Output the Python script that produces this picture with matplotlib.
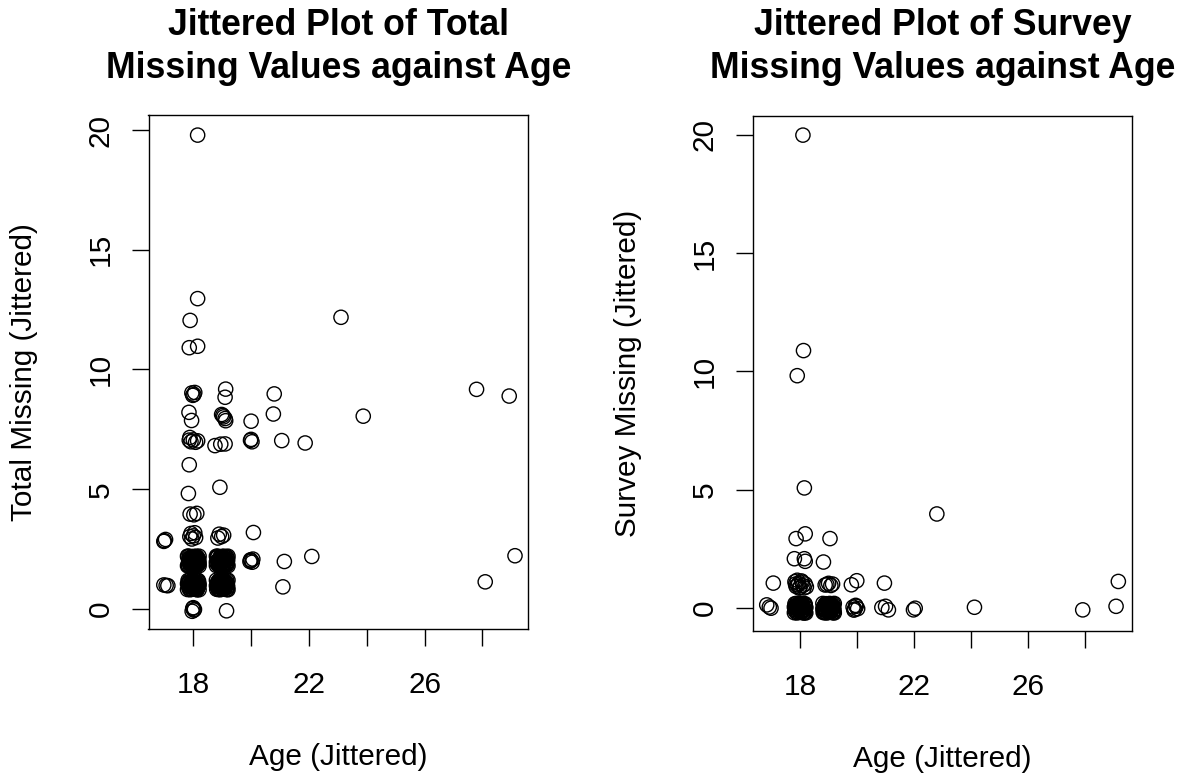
import numpy as np
import matplotlib
matplotlib.use("Agg")
from matplotlib import pyplot as plt

plt.rcParams['font.family'] = ['Liberation Sans', 'DejaVu Sans']

# left panel: jittered age vs total missing
age_total = [
    18.15, 18.15, 17.89, 23.11, 17.86, 18.15,
    17.95, 18.02, 18.05, 17.98, 19.12, 19.10, 20.80, 27.80, 28.93,
    17.85, 17.94, 18.98, 19.05, 19.10, 19.02, 19.12, 20.00, 20.77, 23.88,
    17.86, 17.92, 18.00, 18.08, 18.15, 17.88, 18.75, 18.95, 19.10, 20.00, 20.03, 19.98, 21.06, 21.87,
    17.86, 18.92, 17.83,
    17.89, 18.12, 18.02,
    17.92, 18.00, 17.95, 18.05, 17.88, 18.08, 18.90, 18.98, 19.05, 18.85, 20.08,
    17.00, 17.04, 16.98,
    # age 18, two missing
    17.82, 17.85, 17.88, 17.90, 17.93, 17.95, 17.97, 18.00, 18.02, 18.04, 18.06, 18.08, 18.10,
    18.12, 18.15, 18.17, 18.19, 17.84, 17.99, 18.01, 18.13, 17.91, 18.05, 18.16, 17.87,
    17.81, 17.83, 17.86, 17.89, 17.92, 17.94, 17.96, 17.99, 18.03, 18.05, 18.07, 18.09, 18.11,
    18.14, 18.18, 18.20, 17.80, 18.20, 17.80, 18.20, 17.88, 18.00, 18.12, 17.95, 18.08,
    # age 19, two missing
    18.81, 18.83, 18.86, 18.88, 18.91, 18.93, 18.95, 18.98, 19.00, 19.02, 19.04, 19.07, 19.09,
    19.11, 19.14, 19.16, 19.18, 18.85, 18.97, 19.03, 19.12, 18.90, 19.06, 18.94, 19.17,
    18.80, 18.82, 18.85, 18.88, 18.90, 18.93, 18.96, 18.99, 19.01, 19.04, 19.06, 19.08, 19.11,
    19.13, 19.16, 19.19, 18.80, 19.20, 18.80, 19.20, 18.87, 19.00, 19.10, 18.95, 19.05,
    19.98, 20.04, 20.00, 20.06, 19.96,
    21.15, 22.10, 29.13,
    16.98, 17.06, 17.12,
    # age 18, one missing
    17.83, 17.85, 17.88, 17.90, 17.92, 17.95, 17.97, 18.00, 18.02, 18.04, 18.07, 18.09,
    18.11, 18.14, 18.16, 18.18, 17.86, 18.01, 18.06, 17.93, 18.12, 17.98, 18.19,
    17.80, 17.82, 17.84, 17.87, 17.89, 17.91, 17.94, 17.96, 17.99, 18.03, 18.05, 18.08,
    18.10, 18.13, 18.15, 18.17, 18.20, 17.80, 18.20, 18.00, 17.90, 18.10, 17.85, 18.18,
    # age 19, one missing
    18.82, 18.84, 18.87, 18.89, 18.92, 18.94, 18.96, 18.99, 19.01, 19.03, 19.05, 19.08,
    19.10, 19.13, 19.15, 19.17, 18.86, 19.00, 19.12, 18.91, 19.06, 19.18,
    18.80, 18.81, 18.83, 18.86, 18.88, 18.90, 18.93, 18.95, 18.98, 19.02, 19.04, 19.07,
    19.09, 19.11, 19.14, 19.16, 19.19, 18.80, 19.20, 19.20, 18.97, 19.03, 18.85, 19.13,
    21.10, 28.10,
    17.98, 18.02, 18.00, 17.96, 18.04, 19.15,
]
total_missing = [
    19.79, 12.96, 12.05, 12.18, 10.91, 10.97,
    9.02, 8.95, 9.04, 8.92, 9.18, 8.84, 8.98, 9.17, 8.89,
    8.21, 7.87, 8.12, 8.02, 7.95, 8.08, 7.86, 7.84, 8.14, 8.05,
    7.05, 6.98, 7.06, 6.96, 7.02, 7.16, 6.82, 6.88, 6.89, 7.08, 6.98, 7.04, 7.03, 6.93,
    6.02, 5.08, 4.82,
    3.96, 3.99, 3.93,
    3.15, 3.05, 2.92, 3.18, 3.02, 2.98, 3.12, 3.02, 3.08, 2.96, 3.19,
    2.85, 2.90, 2.82,
    1.84, 2.10, 1.95, 2.16, 1.82, 2.03, 1.90, 2.12, 1.86, 1.98, 2.18, 1.83, 2.06,
    1.92, 2.14, 1.88, 2.01, 1.97, 1.80, 2.19, 1.81, 2.07, 2.09, 1.96, 1.89,
    2.19, 1.81, 2.20, 1.80, 2.11, 1.87, 2.18, 1.93, 2.04, 1.81, 2.13, 1.96, 2.20,
    1.85, 2.08, 1.91, 1.80, 2.20, 2.20, 1.80, 2.02, 1.97, 2.16, 1.99, 1.84,
    1.92, 2.14, 1.83, 2.04, 1.97, 2.17, 1.86, 2.08, 1.81, 2.00, 2.15, 1.89, 2.11,
    1.85, 2.02, 2.18, 1.94, 1.99, 1.93, 1.82, 2.07, 1.87, 2.03, 2.12, 1.84,
    1.81, 2.18, 2.20, 1.84, 2.09, 1.80, 2.03, 2.19, 1.94, 1.86, 2.20, 1.98, 1.82,
    2.16, 1.90, 2.06, 2.20, 1.80, 1.96, 2.20, 1.93, 2.06, 2.00, 1.98, 2.13,
    2.05, 1.95, 2.02, 2.08, 1.98,
    1.98, 2.19, 2.22,
    1.00, 0.98, 0.97,
    1.06, 0.86, 1.15, 0.95, 1.02, 0.82, 1.18, 0.91, 1.08, 0.99, 0.84, 1.13,
    0.93, 1.04, 0.88, 1.11, 0.97, 1.17, 0.96, 1.10, 0.81, 1.01, 0.98,
    0.81, 1.19, 0.93, 1.20, 0.80, 1.07, 1.16, 0.89, 1.20, 0.82, 1.12, 1.19,
    0.86, 0.80, 1.20, 0.94, 1.02, 1.05, 0.80, 1.03, 0.99, 1.01, 1.10, 1.17,
    0.96, 1.12, 0.85, 1.04, 1.16, 0.90, 1.01, 0.83, 1.14, 0.94, 1.07, 0.87,
    1.18, 0.98, 1.09, 0.82, 1.01, 0.97, 0.91, 1.19, 0.86, 1.05,
    1.20, 0.82, 1.05, 0.81, 1.18, 0.93, 0.80, 1.13, 1.04, 0.88, 1.20, 1.15,
    0.84, 1.06, 0.81, 1.19, 0.92, 0.97, 1.20, 0.80, 0.95, 1.02, 0.92, 1.10,
    0.92, 1.13,
    0.02, -0.05, 0.05, -0.10, -0.02, -0.08,
]

# right panel: jittered age vs survey missing
age_survey = [
    18.10, 18.12, 17.90, 18.15, 22.80, 17.86, 18.18, 19.05, 17.80, 18.15, 18.18, 18.82,
    17.06, 17.82, 17.86, 17.95, 18.00, 18.05, 18.10, 18.18, 18.22, 17.90,
    17.84, 17.97, 18.08, 18.14, 17.92,
    18.94, 19.00, 19.08, 19.14, 18.88, 19.80, 19.99, 20.96, 29.17,
    16.83, 16.98, 16.92,
    # age 18, none missing
    17.83, 17.85, 17.88, 17.90, 17.93, 17.95, 17.97, 18.00, 18.02, 18.04, 18.07, 18.09,
    18.11, 18.14, 18.16, 18.18, 17.86, 18.01, 18.06, 17.92, 18.13, 17.98, 18.19,
    17.80, 17.82, 17.84, 17.87, 17.89, 17.91, 17.94, 17.96, 17.99, 18.03, 18.05, 18.08,
    18.10, 18.13, 18.15, 18.17, 18.20, 17.80, 18.20, 18.00, 17.90, 18.10, 17.85, 18.18,
    # age 19, none missing
    18.82, 18.84, 18.87, 18.89, 18.92, 18.94, 18.96, 18.99, 19.01, 19.03, 19.05, 19.08,
    19.10, 19.13, 19.15, 19.17, 18.86, 19.00, 19.12, 18.91, 19.06, 19.18,
    18.80, 18.81, 18.83, 18.86, 18.88, 18.90, 18.93, 18.95, 18.98, 19.02, 19.04, 19.07,
    19.09, 19.11, 19.14, 19.16, 19.19, 18.80, 19.20, 19.20, 18.97, 19.03, 18.85, 19.13,
    19.86, 19.92, 19.97, 20.02, 19.95, 19.89,
    20.87, 21.00, 21.10, 21.98, 22.04, 24.12, 27.92, 29.09,
]
survey_missing = [
    19.98, 10.88, 9.82, 5.08, 3.98, 2.94, 3.14, 2.94, 2.09, 2.09, 1.98, 1.95,
    1.06, 1.12, 0.92, 1.05, 0.88, 1.15, 0.96, 1.02, 0.90, 1.18,
    1.02, 0.85, 1.10, 0.86, 0.98,
    1.00, 1.05, 0.96, 1.02, 0.98, 0.99, 1.16, 1.06, 1.13,
    0.14, 0.00, 0.05,
    -0.12, 0.10, -0.03, 0.16, -0.17, 0.04, -0.08, 0.13, -0.14, 0.01, 0.18, -0.10,
    0.07, -0.05, 0.15, -0.16, 0.02, 0.19, -0.01, 0.09, -0.19, -0.02, 0.05,
    -0.19, 0.19, -0.07, 0.20, -0.20, 0.07, 0.16, -0.11, 0.20, -0.18, 0.12, 0.19,
    -0.14, -0.20, 0.20, -0.06, 0.02, 0.05, -0.20, 0.03, -0.01, 0.01, 0.10, 0.17,
    0.03, -0.15, 0.12, -0.06, 0.17, -0.11, 0.05, -0.18, 0.14, -0.03, 0.08, -0.13,
    0.18, -0.01, 0.11, -0.17, 0.00, -0.04, 0.06, 0.19, -0.09, 0.04,
    0.20, -0.18, 0.05, -0.19, 0.18, -0.07, -0.20, 0.13, 0.04, -0.12, 0.20, 0.15,
    -0.16, 0.06, -0.19, 0.19, -0.08, -0.03, 0.20, -0.20, -0.05, 0.02, -0.08, 0.10,
    0.05, -0.04, 0.08, -0.02, 0.12, -0.08,
    0.03, 0.08, -0.07, -0.07, 0.00, 0.04, -0.07, 0.08,
]

x_ticks = [18, 20, 22, 24, 26, 28]
x_ticklabels = ['18', '', '22', '', '26', '']
y_ticks = [0, 5, 10, 15, 20]

W, H = 1189, 778
fig = plt.figure(figsize=(W / 100, H / 100), dpi=100)


def setPanel(box, xs, ys, xlim, ylim, ylabel, title):
    l, t, r, b = box
    ax = fig.add_axes([l / W, 1 - b / H, (r - l) / W, (b - t) / H])
    ax.scatter(xs, ys, s=105, facecolors='none', edgecolors='black', linewidths=1.0)
    ax.set_xlim(xlim)
    ax.set_ylim(ylim)
    ax.set_xticks(x_ticks)
    ax.set_xticklabels(x_ticklabels)
    ax.set_yticks(y_ticks)
    ax.set_yticklabels([str(v) for v in y_ticks], rotation=90, va='center')
    ax.tick_params(direction='out', length=12.5, width=1.0, labelsize=21.4,
                   color='black')
    ax.tick_params(axis='x', pad=18)
    ax.tick_params(axis='y', pad=12)
    for sp in ax.spines.values():
        sp.set_linewidth(1.0)
    ax.set_xlabel('Age (Jittered)', fontsize=21.4)
    ax.set_ylabel(ylabel, fontsize=21.4)
    ax.xaxis.set_label_coords(0.5, -128.0 / (b - t))
    ax.xaxis.label.set_va('center')
    ax.yaxis.set_label_coords(-124.0 / (r - l), 0.5)
    ax.yaxis.label.set_va('center')
    cx = (l + r) / 2 / W
    fig.text(cx, 1 - 35 / H, title[0], ha='center', va='baseline',
             fontsize=25.7, fontweight='bold')
    fig.text(cx, 1 - 78 / H, title[1], ha='center', va='baseline',
             fontsize=25.7, fontweight='bold')
    return ax


axTotal = setPanel((148.5, 115, 528, 629), age_total, total_missing,
                   (16.45, 29.58), (-0.84, 20.63), 'Total Missing (Jittered)',
                   ('Jittered Plot of Total', 'Missing Values against Age'))
axSurvey = setPanel((752.5, 115.7, 1132.3, 630.7), age_survey, survey_missing,
                    (16.33, 29.66), (-0.95, 20.8), 'Survey Missing (Jittered)',
                    ('Jittered Plot of Survey', 'Missing Values against Age'))

fig.savefig('out.png', dpi=100)
